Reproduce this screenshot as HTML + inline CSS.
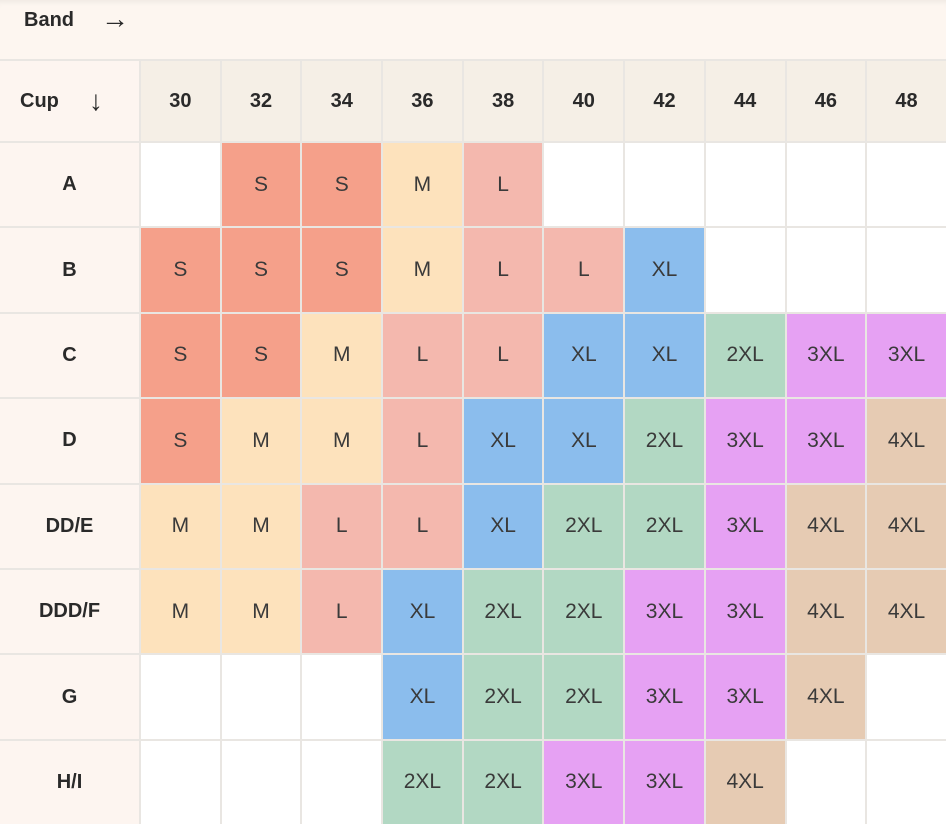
<!DOCTYPE html>
<html><head><meta charset="utf-8"><style>
html,body{margin:0;padding:0;width:946px;height:812px;overflow:hidden;background:#e9e6e2;font-family:"Liberation Sans",sans-serif;}
.band{position:absolute;left:0;top:0;width:946px;height:59px;background:#fdf6f0;box-shadow:inset 0 6px 6px -4px rgba(0,0,0,0.06);}
.band span{position:absolute;left:24px;top:9px;font-size:20px;font-weight:bold;color:#2a2a2a;}
.band i{position:absolute;left:101px;top:3px;font-style:normal;font-size:28px;color:#2a2a2a;}
.grid{position:absolute;left:0;top:61px;display:grid;grid-template-columns:139px repeat(10,78.7px);grid-template-rows:80px repeat(8,83.4px);gap:2px;}
.grid div{display:flex;align-items:center;justify-content:center;font-size:21px;color:#3a3a3a;background:#fff;}
.h{background:#f5efe6!important;font-weight:bold;font-size:20px!important;color:#2a2a2a!important;}
.r{background:#fdf5f0!important;font-weight:bold;font-size:20px!important;color:#2a2a2a!important;}
.S{background:#f5a08a!important}.M{background:#fde2bc!important}.L{background:#f4b8ae!important}
.XL{background:#8bbded!important}.X2{background:#b2d8c3!important}.X3{background:#e6a1f3!important}.X4{background:#e6cbb3!important}
</style></head><body>
<div class="band"><span>Band</span><i>→</i></div>
<div class="grid">
<div class="r" style="justify-content:flex-start"><span style="margin-left:20px">Cup</span><span style="margin-left:30px;font-weight:normal;font-size:28px">↓</span></div>
<div class="h">30</div><div class="h">32</div><div class="h">34</div><div class="h">36</div><div class="h">38</div><div class="h">40</div><div class="h">42</div><div class="h">44</div><div class="h">46</div><div class="h">48</div>

<div class="r">A</div><div></div><div class="S">S</div><div class="S">S</div><div class="M">M</div><div class="L">L</div><div></div><div></div><div></div><div></div><div></div>

<div class="r">B</div><div class="S">S</div><div class="S">S</div><div class="S">S</div><div class="M">M</div><div class="L">L</div><div class="L">L</div><div class="XL">XL</div><div></div><div></div><div></div>

<div class="r">C</div><div class="S">S</div><div class="S">S</div><div class="M">M</div><div class="L">L</div><div class="L">L</div><div class="XL">XL</div><div class="XL">XL</div><div class="X2">2XL</div><div class="X3">3XL</div><div class="X3">3XL</div>

<div class="r">D</div><div class="S">S</div><div class="M">M</div><div class="M">M</div><div class="L">L</div><div class="XL">XL</div><div class="XL">XL</div><div class="X2">2XL</div><div class="X3">3XL</div><div class="X3">3XL</div><div class="X4">4XL</div>

<div class="r">DD/E</div><div class="M">M</div><div class="M">M</div><div class="L">L</div><div class="L">L</div><div class="XL">XL</div><div class="X2">2XL</div><div class="X2">2XL</div><div class="X3">3XL</div><div class="X4">4XL</div><div class="X4">4XL</div>

<div class="r">DDD/F</div><div class="M">M</div><div class="M">M</div><div class="L">L</div><div class="XL">XL</div><div class="X2">2XL</div><div class="X2">2XL</div><div class="X3">3XL</div><div class="X3">3XL</div><div class="X4">4XL</div><div class="X4">4XL</div>

<div class="r">G</div><div></div><div></div><div></div><div class="XL">XL</div><div class="X2">2XL</div><div class="X2">2XL</div><div class="X3">3XL</div><div class="X3">3XL</div><div class="X4">4XL</div><div></div>

<div class="r">H/I</div><div></div><div></div><div></div><div class="X2">2XL</div><div class="X2">2XL</div><div class="X3">3XL</div><div class="X3">3XL</div><div class="X4">4XL</div><div></div><div></div>
</div>
</body></html>
